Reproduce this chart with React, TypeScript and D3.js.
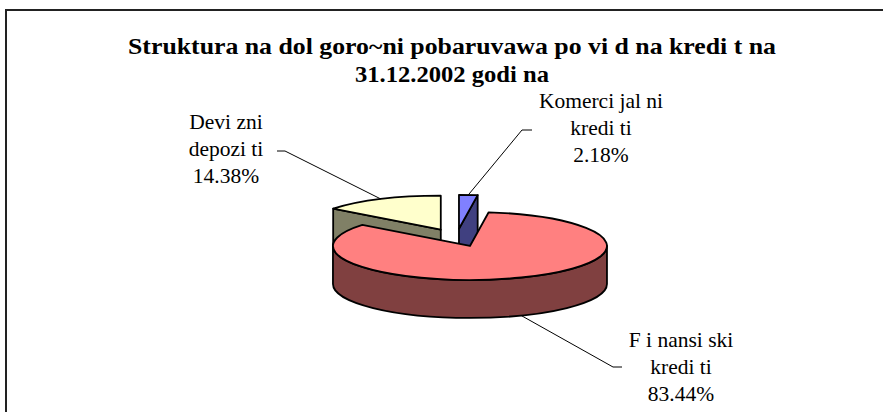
import React from "react";
import * as d3 from "d3";

// ---- data ----
const categories = ["Komercijalni krediti", "Finansiski krediti", "Devizni depoziti"];
const labelLines = [
  ["Komerci jal ni", "kredi ti"],
  ["F i nansi ski", "kredi ti"],
  ["Devi zni", "depozi ti"],
];
const values = [2.18, 83.44, 14.38];
const percentLabels = ["2.18%", "83.44%", "14.38%"];
const titleLines = ["Struktura na dol goro~ni pobaruvawa po vi d na kredi t na", "31.12.2002 godi na"];

// ---- style / layout ----
const W = 883;
const H = 412;
const FONT = "'Liberation Serif', 'DejaVu Serif', serif";
const topColors = ["#8080FF", "#FF8080", "#FFFFCC"];
const sideColors = ["#404080", "#804040", "#808066"];
const CX = 456.5;
const CY = 237.7;
const RX = 137;
const RY = 34;
const DEPTH = 38;
const EXPLODE = 36;
const labelLayout = [
  { x: 601, y: 108, ex0: 532, ex1: 522, ey: 130 },
  { x: 681, y: 347, ex0: 622, ex1: 613, ey: 367 },
  { x: 226, y: 129, ex0: 277, ex1: 285, ey: 151 },
];
const LINE_H = 27;

export default function App() {
  const pie = d3.pie<number>().sort(null).value((d) => d).startAngle(0).endAngle(2 * Math.PI);
  const arcs = pie(values);

  const slices = arcs.map((a, i) => {
    const mid = (a.startAngle + a.endAngle) / 2;
    const ox = CX + EXPLODE * Math.sin(mid);
    const oy = CY - EXPLODE * Math.cos(mid) * (RY / RX);
    const P = (t: number, dz = 0): [number, number] => [ox + RX * Math.sin(t), oy - RY * Math.cos(t) + dz];
    const a0 = a.startAngle;
    const a1 = a.endAngle;
    const large = a1 - a0 > Math.PI ? 1 : 0;
    const p0 = P(a0);
    const p1 = P(a1);
    const top = `M${ox},${oy}L${p0[0]},${p0[1]}A${RX},${RY} 0 ${large} 1 ${p1[0]},${p1[1]}Z`;
    const faces: string[] = [];
    if (Math.sin(a0) < -1e-6) {
      faces.push(`M${ox},${oy}L${p0[0]},${p0[1]}L${p0[0]},${p0[1] + DEPTH}L${ox},${oy + DEPTH}Z`);
    }
    if (Math.sin(a1) > 1e-6) {
      faces.push(`M${ox},${oy}L${p1[0]},${p1[1]}L${p1[0]},${p1[1] + DEPTH}L${ox},${oy + DEPTH}Z`);
    }
    const s = Math.max(a0, Math.PI / 2);
    const e = Math.min(a1, (3 * Math.PI) / 2);
    if (e > s) {
      const ps = P(s);
      const pe = P(e);
      const lg = e - s > Math.PI ? 1 : 0;
      faces.push(
        `M${ps[0]},${ps[1]}A${RX},${RY} 0 ${lg} 1 ${pe[0]},${pe[1]}L${pe[0]},${pe[1] + DEPTH}A${RX},${RY} 0 ${lg} 0 ${ps[0]},${ps[1] + DEPTH}Z`
      );
    }
    const front = Math.cos(mid) < 0;
    const anchor = P(mid, front ? DEPTH : 0);
    return { i, oy, top, faces, anchor };
  });

  const order = [...slices].sort((a, b) => a.oy - b.oy);

  return (
    <svg
      width={W}
      height={H}
      style={{ position: "absolute", left: 0, top: 0, background: "#fff", fontFamily: FONT }}
    >
      <rect x={6} y={10} width={1000} height={1000} fill="#fff" stroke="#222" strokeWidth={2} />
      {titleLines.map((t, k) => (
        <text
          key={k}
          x={452}
          y={54 + k * 28}
          textAnchor="middle"
          fontSize={23}
          fontWeight="bold"
          style={{ fontFamily: FONT }}
          textLength={k === 0 ? 648 : 194}
          lengthAdjust="spacingAndGlyphs"
        >
          {t}
        </text>
      ))}
      {order.map((s) => (
        <g key={s.i} stroke="#000" strokeWidth={1.8} strokeLinejoin="round">
          {s.faces.map((f, k) => (
            <path key={k} d={f} fill={sideColors[s.i]} />
          ))}
          <path d={s.top} fill={topColors[s.i]} />
        </g>
      ))}
      {slices.map((s) => {
        const L = labelLayout[s.i];
        return (
          <g key={"l" + s.i}>
            <polyline
              points={`${L.ex0},${L.ey} ${L.ex1},${L.ey} ${s.anchor[0]},${s.anchor[1]}`}
              fill="none"
              stroke="#000"
              strokeWidth={1}
            />
            <text x={L.x} y={L.y} textAnchor="middle" fontSize={21.5} fill="#000" style={{ fontFamily: FONT }}>
              <tspan x={L.x} y={L.y}>{labelLines[s.i][0]}</tspan>
              <tspan x={L.x} y={L.y + LINE_H}>{labelLines[s.i][1]}</tspan>
              <tspan x={L.x} y={L.y + 2 * LINE_H}>{percentLabels[s.i]}</tspan>
            </text>
          </g>
        );
      })}
    </svg>
  );
}
